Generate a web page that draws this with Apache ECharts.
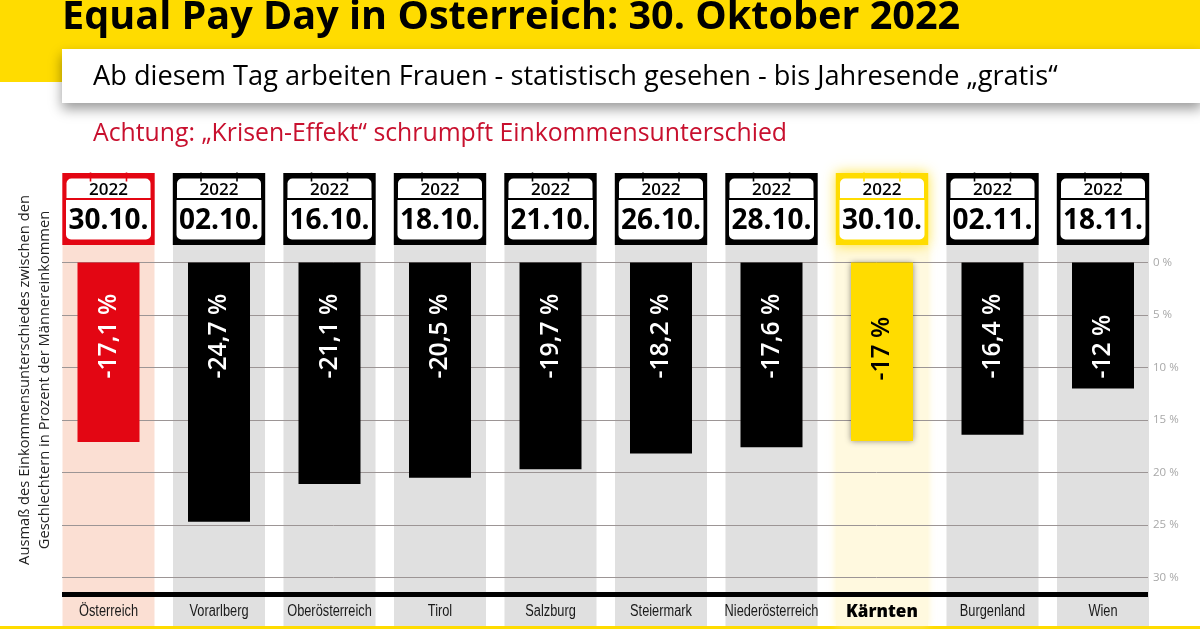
<!DOCTYPE html>
<html>
<head>
<meta charset="utf-8">
<style>html,body{margin:0;padding:0;background:#fff}#c{width:1200px;height:629px}</style>
<script src="https://cdn.jsdelivr.net/npm/echarts@6/dist/echarts.min.js"></script>
</head>
<body>
<div id="c"></div>
<script>
const categories = ['Österreich','Vorarlberg','Oberösterreich','Tirol','Salzburg','Steiermark','Niederösterreich','Kärnten','Burgenland','Wien'];
const gapValues = [-17.1,-24.7,-21.1,-20.5,-19.7,-18.2,-17.6,-17,-16.4,-12];
const gapLabels = ['-17,1 %','-24,7 %','-21,1 %','-20,5 %','-19,7 %','-18,2 %','-17,6 %','-17 %','-16,4 %','-12 %'];
const dates = ['30.10.','02.10.','16.10.','18.10.','21.10.','26.10.','28.10.','30.10.','02.11.','18.11.'];
const years = ['2022','2022','2022','2022','2022','2022','2022','2022','2022','2022'];
const RED='#e30613', YEL='#ffdc00', BLK='#000000';
const accent = i => i===0 ? RED : i===7 ? YEL : BLK;
const band = i => i===0 ? '#fbdfd3' : i===7 ? '#fff9df' : '#e0e0e0';
const FONT = '"Open Sans","Noto Sans",sans-serif';
const SANS = '"Liberation Sans",sans-serif';

const chart = echarts.init(document.getElementById('c'), null, {renderer:'canvas'});
const G = {left:53.25, width:1105};

function renderCalendar(params, api){
  const i = api.value(0);
  const p = api.coord([i,1]);
  const cx = p[0], b = p[1], c = accent(i);
  const kids = [];
  kids.push({type:'rect',shape:{x:cx-46.2,y:b-72,width:92.4,height:72},
    style:{fill:c,shadowBlur:i===7?12:0,shadowColor:'rgba(255,220,0,0.8)'}});
  kids.push({type:'rect',shape:{x:cx-42,y:b-66.5,width:84,height:19.5,r:[5,5,0,0]},style:{fill:'#fff'}});
  kids.push({type:'rect',shape:{x:cx-42.5,y:b-45,width:85,height:39.5,r:[0,0,5,5]},style:{fill:'#fff'}});
  [-18,18].forEach(d=>kids.push({type:'rect',shape:{x:cx+d-0.8,y:b-72.5,width:1.6,height:9},style:{fill:accent(i)}}));
  kids.push({type:'text',style:{x:cx,y:b-55,text:years[i],fill:'#000',font:'600 17px '+FONT,align:'center',verticalAlign:'middle'}});
  kids.push({type:'text',style:{x:cx,y:b-24,text:dates[i],fill:'#000',font:'700 28px '+FONT,align:'center',verticalAlign:'middle'}});
  return {type:'group',children:kids};
}
function renderValueLabel(params, api){
  const i = api.value(0);
  const p = api.coord([i,0]);
  return {type:'text',x:p[0],y:p[1]+(i===7?118:116),rotation:Math.PI/2,
    style:{x:0,y:0,text:gapLabels[i],fill:i===7?'#000':'#fff',font:'600 24.7px '+FONT,align:'left',verticalAlign:'middle'}};
}
function renderCategoryLabel(params, api){
  const i = api.value(0);
  const p = api.coord([i,-30]);
  const bold = categories[i]==='Kärnten';
  return {type:'text',x:p[0],y:p[1]+34,scaleX:bold?0.95:0.8,
    style:{x:0,y:0,text:categories[i],fill:bold?'#000':'#1a1a1a',
      font:(bold?'800 18px '+FONT:'400 16px '+SANS),align:'center',verticalAlign:'middle'}};
}

chart.setOption({
  animation:false,
  backgroundColor:'#fff',
  grid:[
    {left:G.left,width:G.width,top:262.5,height:315},
    {left:G.left,width:G.width,top:245,height:381},
    {left:62,width:1086,top:262.5,height:315}
  ],
  xAxis:[
    {gridIndex:0,type:'category',data:categories,show:false},
    {gridIndex:1,type:'category',data:categories,show:false},
    {gridIndex:2,type:'value',min:0,max:1,position:'bottom',offset:16.5,z:4,
     axisLine:{show:true,onZero:false,lineStyle:{color:'#000',width:5,cap:'butt'}},
     axisTick:{show:false},axisLabel:{show:false},splitLine:{show:false}}
  ],
  yAxis:[
    {gridIndex:0,type:'value',min:-30,max:0,interval:5,show:false},
    {gridIndex:1,type:'value',min:0,max:1,show:false},
    {gridIndex:2,type:'value',min:-30,max:0,interval:5,position:'right',z:3,
     axisLine:{show:false},axisTick:{show:false},
     splitLine:{show:true,lineStyle:{color:'#9c9595',width:1}},
     axisLabel:{margin:5,color:'#a8a8a8',fontFamily:FONT,fontSize:11.5,padding:[0,0,11,0],
       formatter:v=>Math.abs(v)+' %'}}
  ],
  series:[
    {type:'bar',xAxisIndex:1,yAxisIndex:1,z:1,barWidth:92,silent:true,
     data:categories.map((c,i)=>({value:1,itemStyle:{color:band(i),
       shadowBlur:i===7?8:0,shadowColor:'rgba(255,240,170,0.7)'}}))},
    {type:'bar',xAxisIndex:0,yAxisIndex:0,z:5,barWidth:62,
     data:gapValues.map((v,i)=>({value:v,itemStyle:{color:accent(i),
       shadowBlur:i===7?6:0,shadowColor:'rgba(0,0,0,0.45)'}}))},
    {type:'custom',xAxisIndex:0,yAxisIndex:0,z:7,silent:true,renderItem:renderValueLabel,
     data:categories.map((c,i)=>[i,0])},
    {type:'custom',xAxisIndex:0,yAxisIndex:0,z:7,silent:true,renderItem:renderCategoryLabel,
     data:categories.map((c,i)=>[i,-30])},
    {type:'custom',xAxisIndex:1,yAxisIndex:1,z:6,silent:true,renderItem:renderCalendar,
     data:categories.map((c,i)=>[i,1])}
  ],
  graphic:[
    {type:'rect',z:0,shape:{x:0,y:0,width:1200,height:49},style:{fill:YEL}},
    {type:'rect',z:0,shape:{x:0,y:49,width:62,height:33},style:{fill:YEL}},
    {type:'rect',z:0,shape:{x:0,y:626,width:1200,height:3},style:{fill:YEL}},
    {type:'rect',z:2,shape:{x:62,y:49,width:1140,height:54},
      style:{fill:'#fff',shadowBlur:12,shadowOffsetY:6,shadowColor:'rgba(0,0,0,0.4)'}},
    {type:'text',z:3,style:{x:62,y:18,text:'Equal Pay Day in Österreich: 30. Oktober 2022',fill:'#000',font:'700 39.6px '+FONT,align:'left',verticalAlign:'middle'}},
    {type:'text',z:3,style:{x:93,y:77,text:'Ab diesem Tag arbeiten Frauen - statistisch gesehen - bis Jahresende „gratis“',fill:'#000',font:'400 27.2px '+FONT,align:'left',verticalAlign:'middle'}},
    {type:'text',z:3,style:{x:93,y:134,text:'Achtung: „Krisen-Effekt“ schrumpft Einkommensunterschied',fill:'#c8102e',font:'400 24.8px '+FONT,align:'left',verticalAlign:'middle'}},
    {type:'text',z:3,x:35,y:380,rotation:Math.PI/2,style:{x:0,y:0,text:'Ausmaß des Einkommensunterschiedes zwischen den\nGeschlechtern in Prozent der Männereinkommen',fill:'#222',font:'400 14.7px '+FONT,lineHeight:20,align:'center',verticalAlign:'middle'}}
  ]
});
</script>
</body>
</html>
